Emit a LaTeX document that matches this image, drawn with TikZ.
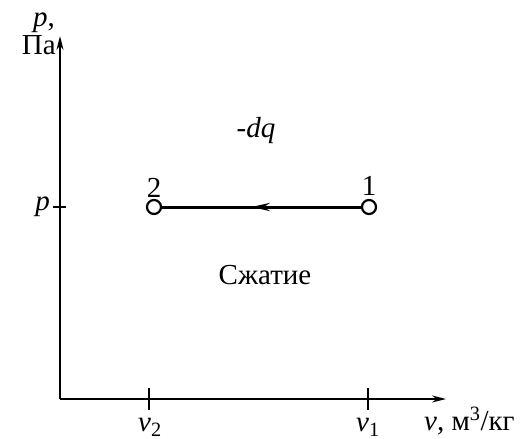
\documentclass[tikz,border=0pt]{standalone}
\usepackage{fontspec}
\setmainfont{Liberation Serif}
\usetikzlibrary{arrows.meta, positioning, decorations.markings}
\tikzset{
  axis/.style={line width=1.6pt, -{Stealth[length=14pt, width=7pt]}}, % coordinate axes
  tick/.style={line width=1.3pt},
  process/.style={line width=3pt,
    postaction={decorate},
    decoration={markings, mark=at position 0.55 with {\arrow{Stealth[length=18pt, width=8pt]}}}},
  state point/.style={draw, circle, line width=2.2pt, fill=white,
    minimum size=14pt, inner sep=0pt},
  lbl/.style={font=\fontsize{29}{32}\selectfont, inner sep=1pt},
}

\begin{document}
\begin{tikzpicture}[x=1pt, y=-1pt]
    \useasboundingbox (0,0) rectangle (523,439);

    % axes
    \coordinate (origin) at (60,399);
    \coordinate (ytip) at (60,36);
    \coordinate (xtip) at (446,399);
    \draw[axis] (origin) -- (ytip);
    \draw[axis] (origin) -- (xtip);

    % ticks
    \coordinate (v2) at (149,399);
    \coordinate (v1) at (368,399);
    \coordinate (pp) at (60,207);
    \draw[tick] ([yshift=11pt]v2) -- ([yshift=-11pt]v2);
    \draw[tick] ([yshift=11pt]v1) -- ([yshift=-11pt]v1);
    \draw[tick] ([xshift=-7pt]pp) -- ([xshift=6pt]pp);

    % axis labels
    \node[lbl, anchor=east] (ylabel) at (57,45) {Па};
    \node[lbl, anchor=south, inner sep=0pt] (yname) at ([xshift=5pt, yshift=1pt]ylabel.north) {\textit{p},};
    \node[lbl, anchor=west] (xlabel) at (423,421) {\textit{v}, м\textsuperscript{3}/кг};
    \node[lbl] (v2lbl) at (150,427) {\textit{v}\textsubscript{2}};
    \node[lbl] (v1lbl) at (368,427) {\textit{v}\textsubscript{1}};
    \node[lbl, left=9pt of pp] (plbl) {\textit{p}};

    % process 1 -> 2
    \node[state point] (pt2) at (154,207) {};
    \node[state point] (pt1) at (369,207) {};
    \draw[process] (pt1) -- (pt2);
    \node[lbl, above=0pt of pt2] (n2) {2};
    \node[lbl, above=2pt of pt1] (n1) {1};

    \node[lbl] (heat) at (256,131) {\textit{-dq}};
    \node[lbl] (comp) at (265,275) {Сжатие};
\end{tikzpicture}
\end{document}
